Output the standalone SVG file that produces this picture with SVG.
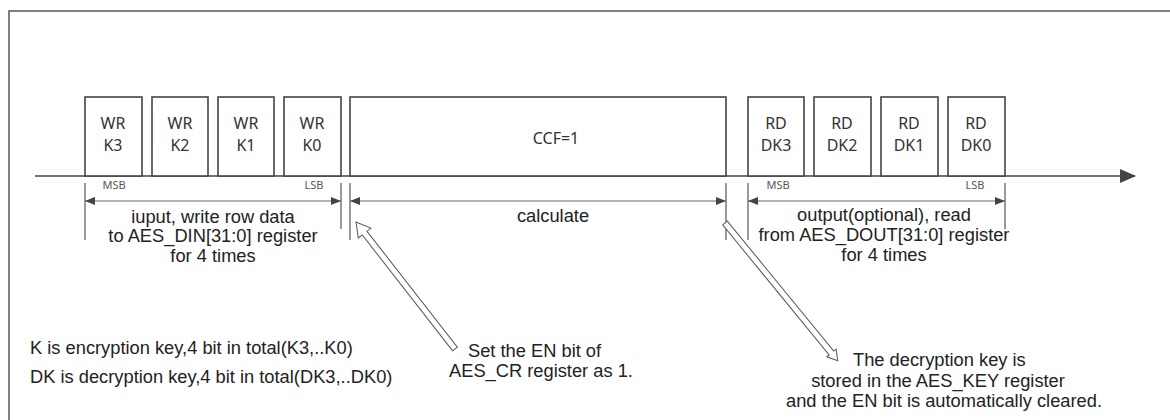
<svg xmlns="http://www.w3.org/2000/svg" width="1170" height="420" viewBox="0 0 1170 420">
<defs>
<marker id="ah" viewBox="0 0 10 8" refX="10" refY="4" markerWidth="10" markerHeight="8" markerUnits="userSpaceOnUse" orient="auto-start-reverse">
<path d="M0,0 L10,4 L0,8 Z" fill="#444"/>
</marker>
<marker id="big" viewBox="0 0 16 14" refX="15" refY="7" markerWidth="16" markerHeight="14" markerUnits="userSpaceOnUse" orient="auto">
<path d="M0,0 L16,7 L0,14 Z" fill="#444"/>
</marker>
<style>
.box{fill:#fff;stroke:#444;stroke-width:1.6}
.bt{font-family:"Noto Sans","Open Sans",sans-serif;font-size:16px;fill:#333;text-anchor:middle}
.sm{font-family:"Noto Sans","Open Sans",sans-serif;font-size:11px;fill:#555;text-anchor:middle}
.tx{font-family:"Liberation Sans",Arial,sans-serif;font-size:18.3px;fill:#222}
.mid{text-anchor:middle}
.ext{stroke:#555;stroke-width:1.2;fill:none}
.dim{stroke:#666;stroke-width:1.2;fill:none}
.hollow{fill:#fff;stroke:#555;stroke-width:1}
</style>
</defs>
<path d="M9,430 V11 H1175" fill="none" stroke="#555" stroke-width="1.5"/>
<g id="connectors">
<line x1="35" y1="176" x2="1135" y2="176" stroke="#444" stroke-width="1.6" marker-end="url(#big)"/>
<line class="ext" x1="85" y1="183" x2="85" y2="240"/>
<line class="ext" x1="341" y1="183" x2="341" y2="229"/>
<line class="ext" x1="350" y1="183" x2="350" y2="240"/>
<line class="ext" x1="726" y1="183" x2="726" y2="240"/>
<line class="ext" x1="748" y1="183" x2="748" y2="240"/>
<line class="ext" x1="1005" y1="183" x2="1005" y2="229"/>
<line class="dim" x1="85" y1="201" x2="341" y2="201" marker-start="url(#ah)" marker-end="url(#ah)"/>
<line class="dim" x1="350" y1="201" x2="726" y2="201" marker-start="url(#ah)" marker-end="url(#ah)"/>
<line class="dim" x1="748" y1="201" x2="1005" y2="201" marker-start="url(#ah)" marker-end="url(#ah)"/>
<polygon class="hollow" transform="translate(455,349) rotate(232.06)" points="0,-3 147,-3 147,-8 161,0 147,8 147,3 0,3"/>
<polygon class="hollow" transform="translate(725,223) rotate(50.68)" points="0,-3 168,-3 168,-6 178,0 168,6 168,3 0,3"/>
</g>
<g id="wr-k3"><rect class="box" x="85" y="97" width="57" height="79"/><text class="bt" x="113" y="129">WR</text><text class="bt" x="113" y="151">K3</text></g>
<g id="wr-k2"><rect class="box" x="152" y="97" width="56" height="79"/><text class="bt" x="180" y="129">WR</text><text class="bt" x="180" y="151">K2</text></g>
<g id="wr-k1"><rect class="box" x="218" y="97" width="56" height="79"/><text class="bt" x="246" y="129">WR</text><text class="bt" x="246" y="151">K1</text></g>
<g id="wr-k0"><rect class="box" x="284" y="97" width="57" height="79"/><text class="bt" x="312" y="129">WR</text><text class="bt" x="312" y="151">K0</text></g>
<g id="ccf"><rect class="box" x="350" y="97" width="376" height="79"/><text class="bt" x="556" y="144">CCF=1</text></g>
<g id="rd-dk3"><rect class="box" x="748" y="97" width="56" height="79"/><text class="bt" x="776" y="129">RD</text><text class="bt" x="776" y="151">DK3</text></g>
<g id="rd-dk2"><rect class="box" x="814" y="97" width="57" height="79"/><text class="bt" x="842" y="129">RD</text><text class="bt" x="842" y="151">DK2</text></g>
<g id="rd-dk1"><rect class="box" x="881" y="97" width="57" height="79"/><text class="bt" x="909" y="129">RD</text><text class="bt" x="909" y="151">DK1</text></g>
<g id="rd-dk0"><rect class="box" x="948" y="97" width="57" height="79"/><text class="bt" x="976" y="129">RD</text><text class="bt" x="976" y="151">DK0</text></g>
<g id="labels">
<text class="sm" x="114" y="189">MSB</text>
<text class="sm" x="314" y="189">LSB</text>
<text class="sm" x="778" y="189">MSB</text>
<text class="sm" x="975" y="189">LSB</text>
<text class="tx mid" x="213" y="223">iuput, write row data</text>
<text class="tx mid" x="213" y="242">to AES_DIN[31:0] register</text>
<text class="tx mid" x="213" y="262">for 4 times</text>
<text class="tx mid" x="553" y="222">calculate</text>
<text class="tx mid" x="884" y="221">output(optional), read</text>
<text class="tx mid" x="884" y="241">from AES_DOUT[31:0] register</text>
<text class="tx mid" x="884" y="261">for 4 times</text>
<text class="tx" x="30" y="354">K is encryption key,4 bit in total(K3,..K0)</text>
<text class="tx" x="30" y="383">DK is decryption key,4 bit in total(DK3,..DK0)</text>
<text class="tx" x="468" y="357">Set the EN bit of</text>
<text class="tx" x="449" y="377">AES_CR register as 1.</text>
<text class="tx" x="853" y="366">The decryption key is</text>
<text class="tx mid" x="938" y="387">stored in the AES_KEY register</text>
<text class="tx mid" x="944" y="407">and the EN bit is automatically cleared.</text>
</g>
</svg>
